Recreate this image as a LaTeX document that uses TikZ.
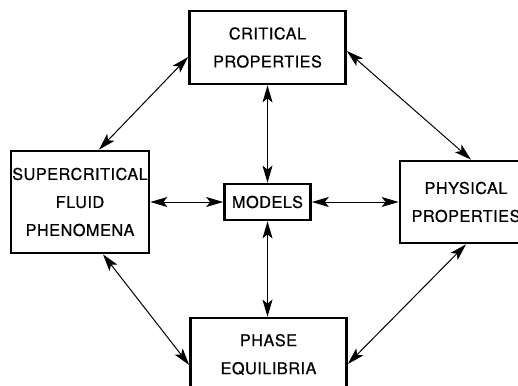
\documentclass[tikz,border=0pt]{standalone}
\usepackage{fontspec}
\setmainfont{TeX Gyre Heros}[LetterSpace=3,FakeBold=0.6]
\usetikzlibrary{arrows.meta}
\begin{document}
\begin{tikzpicture}[x=1pt,y=-1pt,
  box/.style={draw,line width=2.7pt,align=center,inner sep=0pt,
    font=\fontsize{16.3}{28}\selectfont},
  link/.style={line width=1pt,
    {Stealth[length=17pt,width=10pt,inset=4pt]}-{Stealth[length=17pt,width=10pt,inset=4pt]}}]
\useasboundingbox (0,0) rectangle (518,385);
\clip (0,0) rectangle (518,385);
\node[box,minimum width=156pt,minimum height=73pt] (crit) at (267.5,47.5) {CRITICAL\\PROPERTIES};
\node[box,minimum width=138pt,minimum height=102pt] (super) at (80,202) {SUPERCRITICAL\\FLUID\\PHENOMENA};
\node[box,minimum width=132pt,minimum height=82pt] (phys) at (466,202) {PHYSICAL\\PROPERTIES};
\node[box,minimum width=86pt,minimum height=36pt] (models) at (267.5,202) {MODELS};
\node[box,minimum width=156pt,minimum height=73pt] (phase) at (268.5,354.5) {PHASE\\EQUILIBRIA};
\draw[link] (crit.south) -- (models.north);
\draw[link] (models.south) -- (models.south |- phase.north);
\draw[link] (super.east) -- (models.west);
\draw[link] (models.east) -- (phys.west);
\draw[link] ([yshift=-9.5pt]crit.west) -- ([xshift=19pt]super.north);
\draw[link] ([yshift=-3.5pt]crit.east) -- ([xshift=5pt]phys.north);
\draw[link] ([xshift=23pt]super.south) -- ([yshift=-10.5pt]phase.west);
\draw[link] (phys.south) -- ([yshift=-9.5pt]phase.east);
\end{tikzpicture}
\end{document}
